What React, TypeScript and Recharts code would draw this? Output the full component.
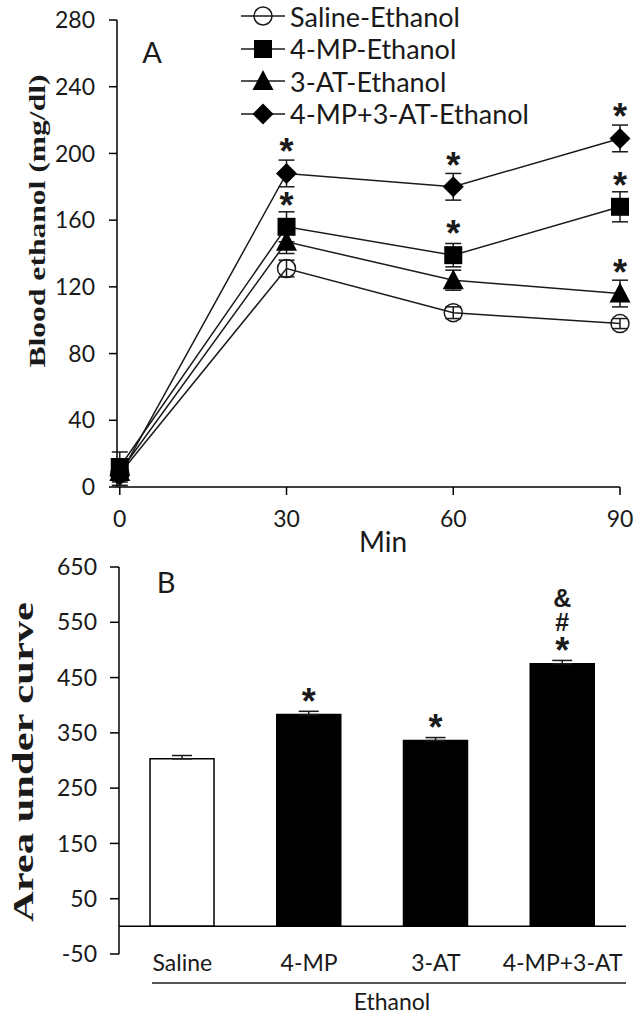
import React from "react";
import {
  LineChart,
  Line,
  BarChart,
  Bar,
  Cell,
  XAxis,
  YAxis,
  ErrorBar,
  LabelList,
  Legend,
  ReferenceLine,
} from "recharts";

const FONT = "Lato, 'Open Sans', sans-serif";
const STAR_FONT = "'Liberation Sans', Arial, sans-serif";
const SERIF = "'Liberation Serif', 'DejaVu Serif', serif";
const INK = "#1a1a1a";

// panel A: blood ethanol over time
const minutes = [0, 30, 60, 90];
const salineEthanol = [8, 131, 104.5, 98];
const salineEthanolErr = [4, 5, 3.5, 3];
const mpEthanol = [12, 156, 139, 168];
const mpEthanolErr = [9, 9, 7, 9];
const atEthanol = [9, 147, 124, 116];
const atEthanolErr = [5, 7, 6, 8];
const comboEthanol = [7, 188, 180, 209];
const comboEthanolErr = [6, 8, 8, 8];
const mpSig = ["", "*", "*", "*"];
const atSig = ["", "", "", "*"];
const comboSig = ["", "*", "*", "*"];
const yTicksA = [0, 40, 80, 120, 160, 200, 240, 280];

// panel B: area under curve
const groups = ["Saline", "4-MP", "3-AT", "4-MP+3-AT"];
const auc = [303, 383, 336, 475];
const aucErr = [6, 6, 5.5, 6];
const aucSig = ["", "*", "*", "*#&"];
const barFills = ["#ffffff", "#000000", "#000000", "#000000"];
const yTicksB = [-50, 50, 150, 250, 350, 450, 550, 650];

const series = [
  { key: "saline", name: "Saline-Ethanol", shape: "circle" },
  { key: "mp", name: "4-MP-Ethanol", shape: "square" },
  { key: "at", name: "3-AT-Ethanol", shape: "triangle" },
  { key: "combo", name: "4-MP+3-AT-Ethanol", shape: "diamond" },
];

const timeData = minutes.map((t, i) => ({
  t,
  saline: salineEthanol[i],
  salineErr: salineEthanolErr[i],
  mp: mpEthanol[i],
  mpErr: mpEthanolErr[i],
  mpSig: mpSig[i],
  at: atEthanol[i],
  atErr: atEthanolErr[i],
  atSig: atSig[i],
  combo: comboEthanol[i],
  comboErr: comboEthanolErr[i],
  comboSig: comboSig[i],
}));

const aucData = groups.map((g, i) => ({
  group: g,
  auc: auc[i],
  err: [0, aucErr[i]],
  sig: aucSig[i],
}));

function Marker({ shape, cx, cy }: { shape: string; cx: number; cy: number }) {
  if (shape === "circle")
    return <circle cx={cx} cy={cy} r={9} fill="none" stroke={INK} strokeWidth={1.5} />;
  if (shape === "square")
    return <rect x={cx - 9} y={cy - 9} width={18} height={18} fill="#000" />;
  if (shape === "triangle")
    return (
      <polygon
        points={`${cx},${cy - 11} ${cx + 10.5},${cy + 9} ${cx - 10.5},${cy + 9}`}
        fill="#000"
      />
    );
  return (
    <polygon
      points={`${cx},${cy - 10.5} ${cx + 10.5},${cy} ${cx},${cy + 10.5} ${cx - 10.5},${cy}`}
      fill="#000"
    />
  );
}

const makeDot = (shape: string) => (props: any) => {
  const { cx, cy, index } = props;
  if (cx == null || cy == null) return <g key={index} />;
  return <Marker key={index} shape={shape} cx={cx} cy={cy} />;
};

// asterisk centred ~29px above the point
const StarLabel = (props: any) => {
  const { x, y, value } = props;
  if (!value) return null;
  return (
    <text
      x={x}
      y={y - 29 + 20}
      textAnchor="middle"
      fontSize={36}
      fontWeight="bold"
      fontFamily={STAR_FONT}
      fill={INK}
    >
      {value}
    </text>
  );
};

// * # & stacked bottom-up over the bar
const BarSigLabel = (props: any) => {
  const { x, y, width, value } = props;
  if (!value) return null;
  const cx = x + width / 2;
  const chars = String(value).split("");
  return (
    <g>
      {chars.map((ch, i) => {
        const isStar = ch === "*";
        const centre = y - [21, 42, 66][i];
        return (
          <text
            key={i}
            x={cx}
            y={centre + (isStar ? 20 : 9)}
            textAnchor="middle"
            fontFamily={STAR_FONT}
            fontWeight="bold"
            fontSize={isStar ? 36 : 25}
            fill={INK}
          >
            {ch}
          </text>
        );
      })}
    </g>
  );
};

function LegendRows() {
  return (
    <div style={{ fontFamily: FONT, fontSize: 27, color: INK }}>
      {series.map((s) => (
        <div key={s.key} style={{ display: "flex", alignItems: "center", height: 32.5 }}>
          <svg width={46} height={32} style={{ display: "block" }}>
            <line x1={0} x2={44} y1={16} y2={16} stroke={INK} strokeWidth={1.5} />
            <Marker shape={s.shape} cx={22} cy={16} />
          </svg>
          <span style={{ marginLeft: 3, whiteSpace: "nowrap", lineHeight: "25px" }}>{s.name}</span>
        </div>
      ))}
    </div>
  );
}

const tickStyle = { fontFamily: FONT, fontSize: 23, fill: INK };

export default function App() {
  return (
    <div style={{ position: "absolute", left: 0, top: 0, width: 643, height: 1020, background: "#fff" }}>
      <div style={{ position: "absolute", left: 0, top: 0 }}>
        <LineChart
          width={643}
          height={560}
          data={timeData}
          margin={{ top: 20, right: 23, bottom: 33, left: 0 }}
        >
          <XAxis
            dataKey="t"
            type="number"
            domain={[-0.5, 90]}
            ticks={minutes}
            tick={tickStyle}
            tickSize={8}
            tickMargin={16}
            height={40}
            stroke="#000"
            strokeWidth={1.5}
          />
          <YAxis
            domain={[0, 280]}
            ticks={yTicksA}
            tick={tickStyle}
            tickSize={8}
            tickMargin={14}
            width={117}
            stroke="#000"
            strokeWidth={1.5}
          />
          <Legend
            layout="vertical"
            align="center"
            verticalAlign="middle"
            wrapperStyle={{ left: 241, top: 0, width: 390 }}
            content={() => <LegendRows />}
          />
          {series.map((s) => (
            <Line
              key={s.key}
              dataKey={s.key}
              name={s.name}
              stroke={INK}
              strokeWidth={1.5}
              isAnimationActive={false}
              dot={makeDot(s.shape)}
              activeDot={false}
            >
              <ErrorBar dataKey={`${s.key}Err`} width={8} stroke={INK} strokeWidth={1.5} direction="y" />
              {s.key !== "saline" && <LabelList dataKey={`${s.key}Sig`} content={StarLabel} />}
            </Line>
          ))}
          <text x={152} y={63} textAnchor="middle" fontFamily={FONT} fontSize={29} fill={INK}>
            A
          </text>
          <text x={383} y={552} textAnchor="middle" fontFamily={FONT} fontSize={28} fill={INK}>
            Min
          </text>
          <text
            x={45}
            y={221}
            transform="rotate(-90, 45, 221)"
            textAnchor="middle"
            fontFamily={SERIF}
            fontWeight="bold"
            fontSize={24}
            textLength={293}
            lengthAdjust="spacingAndGlyphs"
            fill={INK}
          >
            Blood ethanol (mg/dl)
          </text>
        </LineChart>
      </div>
      <div style={{ position: "absolute", left: 0, top: 540 }}>
        <BarChart
          width={643}
          height={480}
          data={aucData}
          margin={{ top: 27, right: 17, bottom: 36, left: 0 }}
        >
          <XAxis
            dataKey="group"
            tick={{ ...tickStyle, fontSize: 23 }}
            axisLine={false}
            tickLine={false}
            tickSize={0}
            tickMargin={1}
            height={30}
            interval={0}
          />
          <YAxis
            domain={[-50, 650]}
            ticks={yTicksB}
            tick={tickStyle}
            tickSize={9}
            tickMargin={13}
            width={119}
            stroke="#000"
            strokeWidth={1.5}
          />
          <ReferenceLine y={0} stroke="#000" strokeWidth={1.5} />
          <Bar dataKey="auc" barSize={64} isAnimationActive={false} stroke="#000" strokeWidth={1.5}>
            {aucData.map((d, i) => (
              <Cell key={d.group} fill={barFills[i]} />
            ))}
            <ErrorBar dataKey="err" width={10} stroke={INK} strokeWidth={1.5} direction="y" />
            <LabelList dataKey="sig" content={BarSigLabel} />
          </Bar>
          <text x={166} y={53} textAnchor="middle" fontFamily={FONT} fontSize={29} fill={INK}>
            B
          </text>
          <line x1={152} x2={626} y1={443} y2={443} stroke="#555" strokeWidth={2} />
          <text x={392} y={470} textAnchor="middle" fontFamily={FONT} fontSize={23} fill={INK}>
            Ethanol
          </text>
          <text
            x={33}
            y={222}
            transform="rotate(-90, 33, 222)"
            textAnchor="middle"
            fontFamily={SERIF}
            fontWeight="bold"
            fontSize={29}
            textLength={320}
            lengthAdjust="spacingAndGlyphs"
            fill={INK}
          >
            Area under curve
          </text>
        </BarChart>
      </div>
    </div>
  );
}
